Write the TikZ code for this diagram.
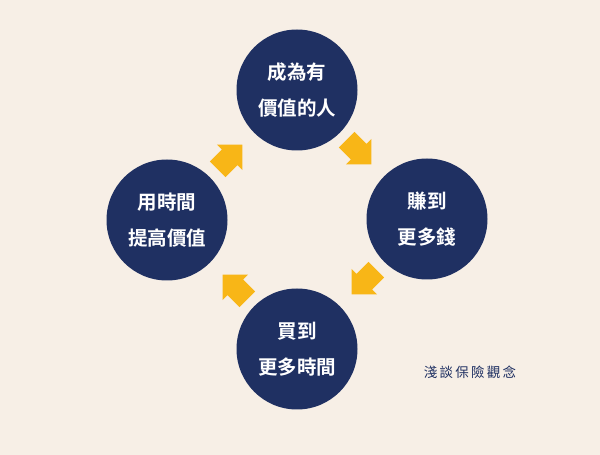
\documentclass[tikz,border=0pt]{standalone}
\usepackage{fontspec}
\newfontfamily\cjkb[BoldFont={Noto Sans CJK TC Bold}]{Noto Sans CJK TC}
\newfontfamily\cjk{Noto Sans CJK TC}
\definecolor{bg}{HTML}{F7EFE6}
\definecolor{navy}{HTML}{1F3062}
\definecolor{gold}{HTML}{F8B617}
\tikzset{
  circ/.style={circle, fill=navy, minimum size=121pt, inner sep=0pt, text=white,
    align=center, font=\cjkb\bfseries\fontsize{19.5}{36}\selectfont},
  blockarrow/.pic={\fill[gold] (-16,-11) -- (1,-11) -- (1,-18) -- (19,0) -- (1,18) -- (1,11) -- (-16,11) -- cycle;}
}
\begin{document}
\begin{tikzpicture}[x=1pt,y=1pt]
\fill[bg] (0,0) rectangle (600,455);
\useasboundingbox (0,0) rectangle (600,455);
\node[circ] (top) at (297,365) {成為有\\價值的人};
\node[circ] (right) at (427,236) {賺到\\更多錢};
\node[circ] (bottom) at (297,106) {買到\\更多時間};
\node[circ] (left) at (167,235) {用時間\\提高價值};
\pic[rotate=-45] at (358,304) {blockarrow};
\pic[rotate=-135] at (365,174) {blockarrow};
\pic[rotate=135] at (236,167) {blockarrow};
\pic[rotate=45] at (229,297) {blockarrow};
\node[text=navy, font=\cjk\fontsize{13.5}{15}\selectfont] (wm) at (470,83) {淺\,談\,保\,險\,觀\,念};
\end{tikzpicture}
\end{document}
